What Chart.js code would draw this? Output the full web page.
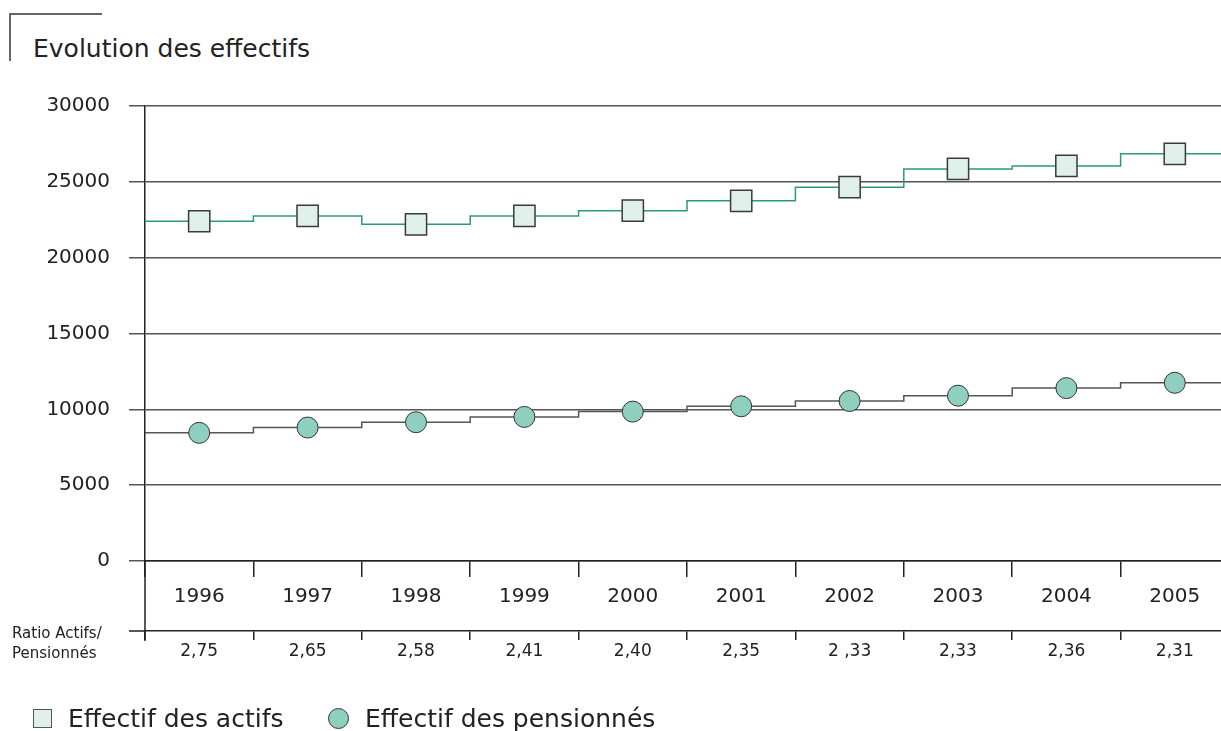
<!DOCTYPE html>
<html lang="fr">
<head>
<meta charset="utf-8">
<title>Evolution des effectifs</title>
<script src="https://cdn.jsdelivr.net/npm/chart.js@4.4.1/dist/chart.umd.min.js"></script>
<style>
  html, body { margin: 0; padding: 0; background: #fff; overflow: hidden; }
  body { width: 1221px; height: 731px; position: relative; font-family: "DejaVu Sans", sans-serif; color: #222; }
  #wrap { position: absolute; left: 0; top: 0; width: 1232px; height: 731px; }
  .corner { position: absolute; left: 9px; top: 13px; width: 91px; height: 46px; border-top: 2px solid #666; border-left: 2px solid #666; }
  .title { position: absolute; left: 33px; top: 34px; font-size: 25px; line-height: 30px; white-space: nowrap; }
  .side { position: absolute; left: 12px; font-size: 15px; line-height: 18px; white-space: nowrap; }
  .leg { position: absolute; top: 704px; font-size: 25px; line-height: 30px; white-space: nowrap; }
  .sq { position: absolute; left: 33px; top: 709px; width: 17px; height: 17px; background: #dff0ea; border: 1.5px solid #555; }
  .dot { position: absolute; left: 328px; top: 708px; width: 19px; height: 19px; border-radius: 50%; background: #8ecfbf; border: 1px solid #333; }
</style>
</head>
<body>
<div class="corner"></div>
<div class="title">Evolution des effectifs</div>
<div id="wrap"><canvas id="chart" width="1232" height="731"></canvas></div>
<div class="side" style="top:624px;">Ratio Actifs/</div>
<div class="side" style="top:644px;">Pensionnés</div>
<div class="sq"></div>
<div class="leg" style="left:68px;">Effectif des actifs</div>
<div class="dot"></div>
<div class="leg" style="left:365px;">Effectif des pensionnés</div>
<script>
// Années, ratios affichés sous l'axe et effectifs
const years = ['1996', '1997', '1998', '1999', '2000', '2001', '2002', '2003', '2004', '2005'];
const ratios = ['2,75', '2,65', '2,58', '2,41', '2,40', '2,35', '2 ,33', '2,33', '2,36', '2,31'];
const actifs = [22400, 22750, 22200, 22750, 23100, 23750, 24650, 25850, 26050, 26850];
const pensionnes = [8450, 8800, 9150, 9500, 9850, 10200, 10550, 10900, 11400, 11750];
const yTicks = [0, 5000, 10000, 15000, 20000, 25000, 30000];

const TEXT = '#222';
const FONT = '"DejaVu Sans", sans-serif';

// Marches : chaque année occupe toute la largeur de sa colonne
function stepPoints(values) {
  const pts = values.map((v, i) => ({ x: i, y: v }));
  pts.push({ x: values.length, y: values[values.length - 1] });
  return pts;
}
// Marqueurs au centre de chaque colonne
function markerPoints(values) {
  return values.map((v, i) => ({ x: i + 0.5, y: v }));
}

// Prolonge l'axe vertical jusqu'à la ligne des ratios
const axisExtension = {
  id: 'axisExtension',
  afterDraw(chart) {
    const { ctx, chartArea } = chart;
    const r = chart.scales.ratios;
    ctx.save();
    ctx.strokeStyle = TEXT;
    ctx.lineWidth = 1.5;
    ctx.beginPath();
    ctx.moveTo(chartArea.left, chartArea.bottom);
    ctx.lineTo(chartArea.left, r.top + 10);
    ctx.moveTo(chartArea.left - 16, r.top);
    ctx.lineTo(chartArea.left, r.top);
    ctx.stroke();
    ctx.restore();
  }
};

new Chart(document.getElementById('chart'), {
  type: 'line',
  data: {
    datasets: [
      {
        label: 'Effectif des actifs',
        data: markerPoints(actifs),
        showLine: false,
        pointStyle: 'rect',
        pointRadius: 15,
        pointBackgroundColor: '#dff0ea',
        pointBorderColor: '#3a3a3a',
        pointBorderWidth: 1.5,
        order: 0
      },
      {
        label: 'Effectif des pensionnés',
        data: markerPoints(pensionnes),
        showLine: false,
        pointStyle: 'circle',
        pointRadius: 10.5,
        pointBackgroundColor: '#8ecfbf',
        pointBorderColor: '#333',
        pointBorderWidth: 1,
        order: 0
      },
      {
        label: 'actifs (marches)',
        data: stepPoints(actifs),
        stepped: 'before',
        borderColor: '#2a9a7e',
        borderWidth: 1.5,
        pointRadius: 0,
        fill: false,
        order: 1
      },
      {
        label: 'pensionnés (marches)',
        data: stepPoints(pensionnes),
        stepped: 'before',
        borderColor: '#555',
        borderWidth: 1.5,
        pointRadius: 0,
        fill: false,
        order: 1
      }
    ]
  },
  options: {
    responsive: false,
    animation: false,
    events: [],
    layout: { autoPadding: false, padding: { top: 106, right: 3, bottom: 60, left: 0 } },
    plugins: { legend: { display: false }, tooltip: { enabled: false } },
    scales: {
      x: { type: 'linear', min: 0, max: years.length, display: false },
      years: {
        type: 'category',
        labels: years,
        position: 'bottom',
        offset: true,
        grid: { display: true, drawOnChartArea: false, offset: true, tickLength: 16, color: TEXT, lineWidth: 1.5 },
        border: { display: true, color: TEXT, width: 1.5 },
        ticks: { color: TEXT, font: { family: FONT, size: 20 }, padding: 8, autoSkip: false, maxRotation: 0 },
        afterFit(scale) { scale.height = 70; }
      },
      ratios: {
        type: 'category',
        labels: ratios,
        position: 'bottom',
        offset: true,
        grid: { display: true, drawOnChartArea: false, offset: true, tickLength: 9, color: TEXT, lineWidth: 1.5 },
        border: { display: true, color: TEXT, width: 1.5 },
        ticks: { color: TEXT, font: { family: FONT, size: 17 }, padding: 1, autoSkip: false, maxRotation: 0 },
        afterFit(scale) { scale.height = 40; }
      },
      y: {
        type: 'linear',
        min: yTicks[0],
        max: yTicks[yTicks.length - 1],
        z: 1,
        afterBuildTicks(scale) { scale.ticks = yTicks.map(v => ({ value: v })); },
        grid: { color: '#555', lineWidth: 1.5, tickLength: 16 },
        border: { display: true, color: TEXT, width: 1.5 },
        ticks: { color: TEXT, font: { family: FONT, size: 20 }, padding: 19, callback: v => String(v) },
        afterFit(scale) { scale.width = 145; }
      }
    }
  },
  plugins: [axisExtension]
});
</script>
</body>
</html>
